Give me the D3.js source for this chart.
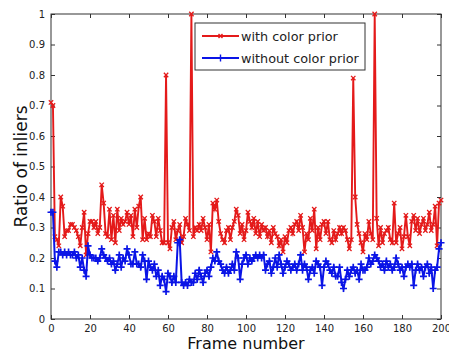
<!DOCTYPE html>
<html>
<head>
<meta charset="utf-8">
<script src="https://cdn.jsdelivr.net/npm/d3@7"></script>
<style>
  body { margin: 0; background: #fff; }
  .axis text { font-family: "DejaVu Sans", sans-serif; font-size: 10px; fill: #222; }
  .axis path, .axis line { stroke: #333; }
</style>
</head>
<body>
<div id="chart"></div>
<script>
// ratio of inliers per frame (frames 0..200)
var withPrior = [
  0.71, 0.70, 0.27, 0.26, 0.24, 0.40, 0.37, 0.27, 0.29, 0.29,
  0.31, 0.31, 0.30, 0.29, 0.27, 0.24, 0.30, 0.35, 0.21, 0.28,
  0.32, 0.32, 0.30, 0.32, 0.28, 0.30, 0.44, 0.38, 0.28, 0.27,
  0.36, 0.26, 0.34, 0.25, 0.36, 0.29, 0.33, 0.31, 0.32, 0.35,
  0.31, 0.34, 0.27, 0.36, 0.30, 0.37, 0.40, 0.26, 0.33, 0.26,
  0.28, 0.27, 0.34, 0.32, 0.27, 0.33, 0.29, 0.25, 0.25, 0.80,
  0.25, 0.23, 0.30, 0.32, 0.26, 0.29, 0.31, 0.25, 0.27, 0.33,
  0.31, 0.29, 1.00, 0.27, 0.30, 0.29, 0.31, 0.29, 0.33, 0.30,
  0.26, 0.31, 0.22, 0.38, 0.36, 0.39, 0.32, 0.28, 0.26, 0.25,
  0.29, 0.30, 0.26, 0.30, 0.32, 0.36, 0.34, 0.28, 0.31, 0.26,
  0.29, 0.35, 0.32, 0.30, 0.33, 0.28, 0.32, 0.27, 0.31, 0.29,
  0.30, 0.27, 0.29, 0.25, 0.30, 0.28, 0.27, 0.24, 0.26, 0.22,
  0.27, 0.25, 0.29, 0.30, 0.28, 0.31, 0.32, 0.29, 0.34, 0.30,
  0.22, 0.28, 0.26, 0.33, 0.29, 0.36, 0.23, 0.30, 0.26, 0.31,
  0.32, 0.28, 0.32, 0.26, 0.25, 0.29, 0.26, 0.28, 0.30, 0.28,
  0.30, 0.29, 0.26, 0.23, 0.26, 0.79, 0.40, 0.31, 0.28, 0.25,
  0.22, 0.28, 0.26, 0.32, 0.28, 0.26, 1.00, 0.33, 0.24, 0.30,
  0.25, 0.28, 0.29, 0.30, 0.26, 0.25, 0.38, 0.25, 0.28, 0.30,
  0.23, 0.27, 0.34, 0.27, 0.24, 0.32, 0.34, 0.29, 0.33, 0.28,
  0.31, 0.33, 0.29, 0.31, 0.35, 0.29, 0.31, 0.37, 0.24, 0.38,
  0.39
];
var withoutPrior = [
  0.35, 0.35, 0.19, 0.17, 0.22, 0.22, 0.21, 0.22, 0.21, 0.22,
  0.21, 0.21, 0.22, 0.20, 0.21, 0.17, 0.20, 0.16, 0.14, 0.24,
  0.21, 0.20, 0.20, 0.20, 0.19, 0.20, 0.23, 0.21, 0.20, 0.19,
  0.20, 0.18, 0.19, 0.16, 0.18, 0.21, 0.17, 0.20, 0.19, 0.23,
  0.21, 0.18, 0.18, 0.22, 0.18, 0.18, 0.17, 0.21, 0.19, 0.13,
  0.19, 0.17, 0.16, 0.18, 0.14, 0.16, 0.11, 0.14, 0.13, 0.09,
  0.15, 0.14, 0.12, 0.14, 0.12, 0.25, 0.26, 0.12, 0.11, 0.12,
  0.11, 0.13, 0.12, 0.12, 0.15, 0.13, 0.16, 0.14, 0.12, 0.15,
  0.16, 0.14, 0.17, 0.20, 0.19, 0.22, 0.19, 0.18, 0.16, 0.15,
  0.17, 0.15, 0.16, 0.18, 0.16, 0.22, 0.20, 0.13, 0.18, 0.20,
  0.21, 0.18, 0.20, 0.19, 0.20, 0.21, 0.20, 0.21, 0.20, 0.21,
  0.16, 0.18, 0.19, 0.15, 0.17, 0.20, 0.17, 0.21, 0.18, 0.15,
  0.17, 0.19, 0.18, 0.16, 0.17, 0.18, 0.16, 0.18, 0.21, 0.16,
  0.18, 0.17, 0.13, 0.16, 0.17, 0.15, 0.19, 0.18, 0.17, 0.11,
  0.17, 0.19, 0.18, 0.16, 0.15, 0.17, 0.14, 0.14, 0.17, 0.12,
  0.10, 0.13, 0.16, 0.14, 0.16, 0.17, 0.15, 0.16, 0.13, 0.18,
  0.16, 0.16, 0.17, 0.20, 0.18, 0.19, 0.21, 0.20, 0.19, 0.17,
  0.18, 0.16, 0.19, 0.17, 0.18, 0.16, 0.17, 0.20, 0.18, 0.16,
  0.17, 0.14, 0.17, 0.18, 0.17, 0.18, 0.11, 0.16, 0.18, 0.16,
  0.17, 0.14, 0.17, 0.18, 0.15, 0.17, 0.10, 0.16, 0.17, 0.23,
  0.25
];
var xTicks = [0, 20, 40, 60, 80, 100, 120, 140, 160, 180, 200];
var yTicks = [0, 0.1, 0.2, 0.3, 0.4, 0.5, 0.6, 0.7, 0.8, 0.9, 1];
var seriesNames = ['with color prior', 'without color prior'];

var W = 449, H = 354;
var margin = { top: 14, right: 8, bottom: 35, left: 51 };
var width = W - margin.left - margin.right;
var height = H - margin.top - margin.bottom;

var svg = d3.select('#chart').append('svg')
  .attr('width', W).attr('height', H);
var g = svg.append('g')
  .attr('transform', 'translate(' + margin.left + ',' + margin.top + ')');

var x = d3.scaleLinear().domain([0, 200]).range([0, width]);
var y = d3.scaleLinear().domain([0, 1]).range([height, 0]);

// box + inward ticks on all sides, MATLAB style
g.append('rect').attr('width', width).attr('height', height)
  .attr('fill', 'none').attr('stroke', '#333');

var fmt = function(d) { return d3.format('~g')(d); };
g.append('g').attr('class', 'axis')
  .attr('transform', 'translate(0,' + height + ')')
  .call(d3.axisBottom(x).tickValues(xTicks).tickSizeInner(-4).tickSizeOuter(0).tickPadding(6).tickFormat(fmt));
g.append('g').attr('class', 'axis')
  .call(d3.axisTop(x).tickValues(xTicks).tickSizeInner(-4).tickSizeOuter(0).tickFormat(''));
g.append('g').attr('class', 'axis')
  .call(d3.axisLeft(y).tickValues(yTicks).tickSizeInner(-4).tickSizeOuter(0).tickPadding(6).tickFormat(fmt));
g.append('g').attr('class', 'axis')
  .attr('transform', 'translate(' + width + ',0)')
  .call(d3.axisRight(y).tickValues(yTicks).tickSizeInner(-4).tickSizeOuter(0).tickFormat(''));
g.selectAll('.axis .domain').remove();

var line = d3.line()
  .x(function(d, i) { return x(i); })
  .y(function(d) { return y(d); });

var red = '#e41a1a', blue = '#0a14e6';

g.append('path').datum(withPrior)
  .attr('fill', 'none').attr('stroke', red).attr('stroke-width', 1.9)
  .attr('d', line);
g.append('g').selectAll('path').data(withPrior).enter().append('path')
  .attr('transform', function(d, i) { return 'translate(' + x(i) + ',' + y(d) + ')'; })
  .attr('d', 'M-2.2,-2.2L2.2,2.2M-2.2,2.2L2.2,-2.2')
  .attr('stroke', red).attr('stroke-width', 1.3);

g.append('path').datum(withoutPrior)
  .attr('fill', 'none').attr('stroke', blue).attr('stroke-width', 2)
  .attr('d', line);
g.append('g').selectAll('path').data(withoutPrior).enter().append('path')
  .attr('transform', function(d, i) { return 'translate(' + x(i) + ',' + y(d) + ')'; })
  .attr('d', 'M-3.5,0L3.5,0M0,-3.5L0,3.5')
  .attr('stroke', blue).attr('stroke-width', 1.7);

// legend
var lg = svg.append('g').attr('transform', 'translate(195,23)');
lg.append('rect').attr('width', 170).attr('height', 47)
  .attr('fill', '#fff').attr('stroke', '#333');
[red, blue].forEach(function(c, i) {
  var ly = 13 + i * 22;
  lg.append('line').attr('x1', 7).attr('x2', 44).attr('y1', ly).attr('y2', ly)
    .attr('stroke', c).attr('stroke-width', 1.8);
  lg.append('path')
    .attr('transform', 'translate(25.5,' + ly + ')')
    .attr('d', i === 0 ? 'M-2,-2L2,2M-2,2L2,-2' : 'M-3.5,0L3.5,0M0,-3.5L0,3.5')
    .attr('stroke', c).attr('stroke-width', 1.4);
  lg.append('text').attr('x', 46).attr('y', ly + 4.5)
    .style('font-family', '"DejaVu Sans", sans-serif').style('font-size', '12.8px')
    .attr('fill', '#222').text(seriesNames[i]);
});

// axis titles
svg.append('text').attr('x', margin.left + width / 2).attr('y', 349)
  .attr('text-anchor', 'middle')
  .style('font-family', '"DejaVu Sans", sans-serif').style('font-size', '16px')
  .attr('fill', '#111').text('Frame number');
svg.append('text')
  .attr('transform', 'translate(27,' + (margin.top + height / 2) + ') rotate(-90)')
  .attr('text-anchor', 'middle')
  .style('font-family', '"DejaVu Sans", sans-serif').style('font-size', '17px')
  .attr('fill', '#111').text('Ratio of inliers');
</script>
</body>
</html>
